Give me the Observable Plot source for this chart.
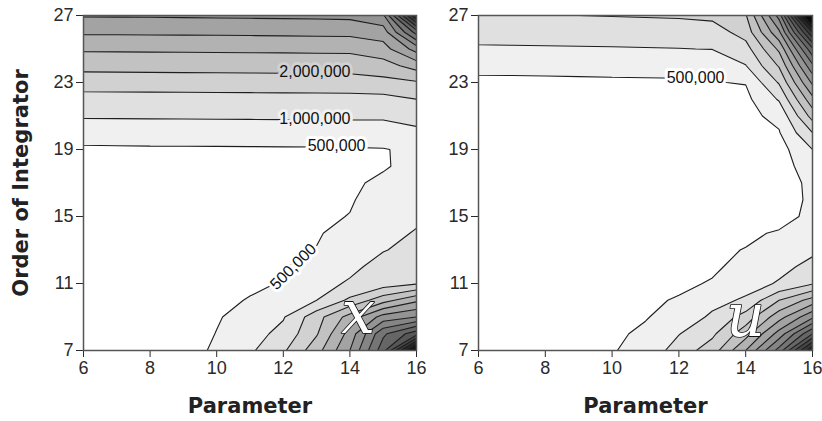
<!DOCTYPE html>
<html><head><meta charset="utf-8">
<script src="https://cdn.jsdelivr.net/npm/d3@7"></script>
<script src="https://cdn.jsdelivr.net/npm/@observablehq/plot@0.6"></script>
<style>
body{margin:0;background:#fff;}
#wrap{display:flex;width:822px;height:421px;}
#wrap svg{overflow:visible;background:none;}
svg{font-family:"Liberation Sans",Arial,sans-serif;}
g[aria-label="x-axis label"] text, g[aria-label="y-axis label"] text{font-family:"DejaVu Sans",sans-serif;font-weight:bold;font-size:21px;fill:#222;}
</style></head><body><div id="wrap"></div>
<script>
// Parameter (x) sample positions and Order of Integrator (y) sample positions
const xs = [6, 7, 8, 9, 10, 11, 12, 13, 14, 15, 16];
const ys = [7, 8, 9, 10, 11, 12, 13, 14, 15, 16, 17, 18, 19, 20, 21, 22, 23, 24, 25, 26, 27];
const xTicks = [6, 8, 10, 12, 14, 16];
const yTicks = [7, 11, 15, 19, 23, 27];
// contour levels (thousands)
const thresholds = [500, 1000, 1500, 2000, 2500, 3000, 3500, 4000, 4500, 5000, 5500, 6000, 6500, 7000, 7500, 8000];

// Panel "x": values in thousands, one row per Order (7 .. 27), columns Parameter 6 .. 16
const gridX = [
  [100, 150, 200, 350, 560, 920, 1420, 2300, 3500, 5300, 8500],
  [110, 160, 220, 330, 510, 800, 1150, 1950, 3200, 4900, 5800],
  [120, 170, 240, 330, 470, 640, 960, 1800, 2700, 3700, 4000],
  [130, 180, 250, 330, 420, 520, 780, 1000, 1600, 2300, 2900],
  [140, 190, 260, 330, 400, 440, 520, 850, 1050, 1250, 1450],
  [150, 200, 270, 330, 390, 430, 480, 620, 900, 1150, 1250],
  [160, 210, 280, 340, 390, 420, 460, 510, 750, 980, 1120],
  [170, 220, 290, 340, 390, 420, 450, 470, 620, 880, 1030],
  [180, 230, 300, 350, 390, 410, 430, 440, 510, 800, 930],
  [190, 240, 300, 350, 390, 410, 430, 440, 470, 650, 850],
  [200, 250, 310, 360, 390, 410, 430, 440, 450, 560, 780],
  [250, 300, 350, 380, 400, 420, 430, 440, 450, 470, 600],
  [450, 455, 460, 460, 462, 465, 468, 470, 475, 485, 560],
  [650, 655, 660, 662, 665, 668, 670, 672, 675, 680, 880],
  [1060, 1065, 1070, 1075, 1080, 1085, 1090, 1095, 1100, 1100, 1200],
  [1290, 1295, 1300, 1305, 1310, 1315, 1320, 1325, 1330, 1350, 1500],
  [1760, 1765, 1770, 1775, 1780, 1785, 1790, 1795, 1800, 1850, 1950],
  [2140, 2145, 2150, 2155, 2160, 2165, 2170, 2175, 2180, 2300, 2700],
  [2570, 2575, 2580, 2585, 2590, 2595, 2600, 2610, 2620, 2800, 3700],
  [3070, 3075, 3080, 3085, 3090, 3100, 3110, 3120, 3130, 3250, 5200],
  [3540, 3545, 3550, 3560, 3570, 3580, 3590, 3600, 3620, 3900, 7500]
];

// Panel "u"
const gridU = [
  [100, 150, 220, 320, 470, 660, 1230, 1750, 3000, 4700, 7500],
  [110, 160, 230, 330, 440, 560, 980, 1400, 2300, 3700, 5500],
  [120, 170, 240, 320, 400, 480, 640, 1100, 1700, 2800, 3900],
  [130, 180, 250, 320, 380, 440, 530, 820, 1080, 2000, 2700],
  [140, 190, 250, 310, 360, 400, 430, 530, 780, 1050, 1450],
  [150, 200, 250, 300, 350, 380, 410, 440, 620, 850, 1150],
  [160, 210, 250, 300, 340, 370, 390, 400, 520, 700, 900],
  [170, 210, 250, 290, 330, 350, 370, 380, 400, 560, 760],
  [180, 220, 250, 290, 320, 340, 350, 350, 340, 280, 650],
  [190, 230, 260, 290, 310, 330, 340, 340, 330, 300, 580],
  [200, 240, 260, 290, 310, 320, 330, 330, 320, 250, 620],
  [210, 250, 270, 290, 310, 320, 330, 330, 320, 250, 800],
  [220, 260, 280, 300, 310, 320, 330, 330, 330, 300, 1000],
  [240, 270, 290, 310, 320, 330, 340, 340, 350, 470, 1500],
  [270, 290, 310, 320, 330, 340, 350, 360, 380, 620, 2200],
  [320, 330, 340, 350, 360, 370, 380, 390, 380, 1050, 2850],
  [470, 470, 472, 474, 476, 478, 480, 485, 520, 1550, 3600],
  [540, 542, 545, 548, 552, 556, 560, 570, 980, 2050, 4400],
  [950, 955, 960, 965, 970, 980, 990, 1010, 1300, 2600, 5400],
  [1150, 1160, 1170, 1180, 1190, 1200, 1220, 1260, 1700, 3400, 7000],
  [1420, 1450, 1480, 1500, 1520, 1540, 1560, 1620, 1950, 4200, 9500]
];

// contour labels: position in data units, text, rotation, level of band beneath (for halo)
const labelsX = [
  {x: 12.95, y: 23.62, text: "2,000,000", rotate: 0, band: 1500},
  {x: 12.95, y: 20.82, text: "1,000,000", rotate: 0, band: 500},
  {x: 13.6, y: 19.2, text: "500,000", rotate: 0, band: 0},
  {x: 12.3, y: 12.0, text: "500,000", rotate: -45, band: 0}
];
const labelsU = [
  {x: 12.5, y: 23.25, text: "500,000", rotate: 0, band: 0}
];
const letterX = [{x: 14.25, y: 9.2, text: "x"}];
const letterU = [{x: 14.0, y: 9.0, text: "u"}];

function panel(grid, labels, letter, o) {
  const values = grid.flat();
  const step = 1;
  return Plot.plot({
    width: o.width, height: 421,
    marginLeft: o.marginLeft, marginRight: o.marginRight, marginTop: 15, marginBottom: 71,
    style: {fontSize: "18px", fontFamily: "Liberation Sans, Arial, sans-serif", color: "#2a2a2a", background: "none", overflow: "visible"},
    x: {domain: [6, 16], ticks: xTicks, tickSize: 7, tickPadding: 4, tickFormat: d => String(d),
        label: "Parameter", labelAnchor: "center", labelOffset: 62, labelArrow: "none"},
    y: {domain: [7, 27], ticks: yTicks, tickSize: 7, tickPadding: 3, tickFormat: d => String(d),
        label: o.ylabel, labelAnchor: "center", labelOffset: 70, labelArrow: "none"},
    color: {type: "linear", domain: [0, 8000], range: ["#ffffff", "#0a0a0a"]},
    marks: [
      Plot.contour(values, {
        width: xs.length, height: ys.length,
        x1: xs[0] - step / 2, x2: xs[xs.length - 1] + step / 2,
        y1: ys[0] - step / 2, y2: ys[ys.length - 1] + step / 2,
        fill: Plot.identity, thresholds, stroke: "#1e1e1e", strokeWidth: 1.1, clip: true
      }),
      Plot.frame({stroke: "#555", strokeWidth: 1.5}),
      Plot.text(labels, {x: "x", y: "y", text: "text", rotate: "rotate", fill: "#111",
        stroke: "band", strokeWidth: 6, paintOrder: "stroke", fontSize: 16}),
      Plot.text(letter, {x: "x", y: "y", text: "text", fill: "white", stroke: "#111", strokeWidth: 1.6,
        fontSize: 60, fontFamily: "DejaVu Serif", fontStyle: "italic"})
    ]
  });
}

const wrap = document.getElementById("wrap");
wrap.append(panel(gridX, labelsX, letterX, {width: 420, marginLeft: 83, marginRight: 4, ylabel: "Order of Integrator"}));
wrap.append(panel(gridU, labelsU, letterU, {width: 402, marginLeft: 58, marginRight: 10, ylabel: null}));
</script></body></html>
